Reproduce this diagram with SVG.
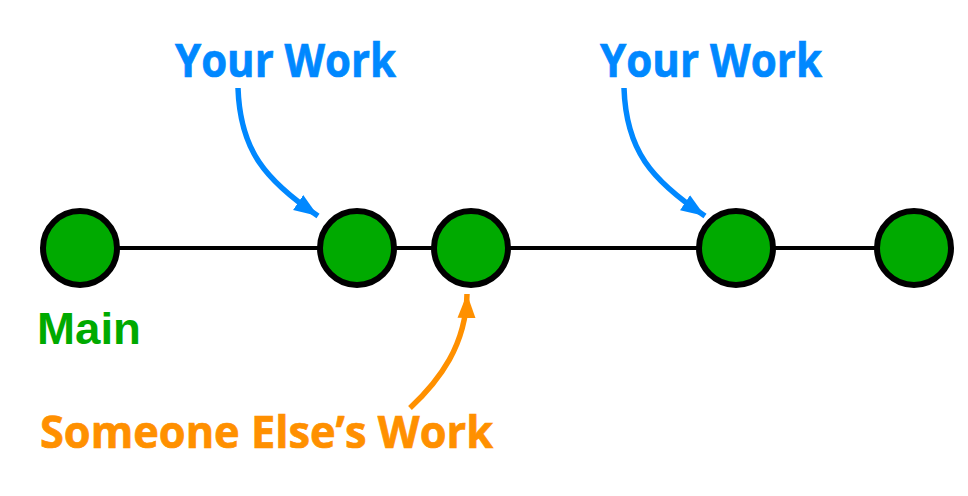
<svg xmlns="http://www.w3.org/2000/svg" width="968" height="496" viewBox="0 0 968 496">
<style>
.node{fill:#00aa00;stroke:#000;stroke-width:6}
.lbl{font-family:"Open Sans","Noto Sans",sans-serif;font-weight:700;stroke-width:0.7}
.blue{fill:#0088ff;stroke:#0088ff}
.orange{fill:#ff9000;stroke:#ff9000}
.main{font-family:"Liberation Sans",Arial,sans-serif;font-weight:700;fill:#00aa00}
.arr{fill:none;stroke-width:5.5}
</style>
<defs>
<marker id="hb" markerUnits="userSpaceOnUse" markerWidth="26" markerHeight="24" viewBox="0 0 26 24" refX="24" refY="12" orient="auto"><path d="M0,3 L24,12 L0,21 Z" fill="#0088ff"/></marker>
<marker id="ho" markerUnits="userSpaceOnUse" markerWidth="26" markerHeight="24" viewBox="0 0 26 24" refX="24" refY="12" orient="auto"><path d="M0,3 L24,12 L0,21 Z" fill="#ff9000"/></marker>
</defs>
<rect width="968" height="496" fill="#fff"/>
<g id="connectors">
<line x1="80" y1="248" x2="913" y2="248" stroke="#000" stroke-width="4"/>
<path class="arr" stroke="#0088ff" d="M238,88 C240,150 265,180 318,216" marker-end="url(#hb)"/>
<path class="arr" stroke="#0088ff" d="M624,88 C626,150 651,180 705,216" marker-end="url(#hb)"/>
<path class="arr" stroke="#ff9000" d="M410,408 C440,380 466,345 467,294" marker-end="url(#ho)"/>
</g>
<g id="n1"><circle class="node" cx="80" cy="248" r="37"/></g>
<g id="n2"><circle class="node" cx="357" cy="248" r="37"/></g>
<g id="n3"><circle class="node" cx="471" cy="248" r="37"/></g>
<g id="n4"><circle class="node" cx="736" cy="248" r="37"/></g>
<g id="n5"><circle class="node" cx="914" cy="248" r="37"/></g>
<g id="labels">
<text class="lbl blue" x="175" y="77" font-size="46" textLength="221" lengthAdjust="spacingAndGlyphs">Your Work</text>
<text class="lbl blue" x="600" y="77" font-size="46" textLength="222" lengthAdjust="spacingAndGlyphs">Your Work</text>
<text class="main" x="37" y="344" font-size="44" textLength="104" lengthAdjust="spacingAndGlyphs">Main</text>
<text class="lbl orange" x="40" y="448" font-size="45" textLength="453" lengthAdjust="spacingAndGlyphs">Someone Else’s Work</text>
</g>
</svg>
